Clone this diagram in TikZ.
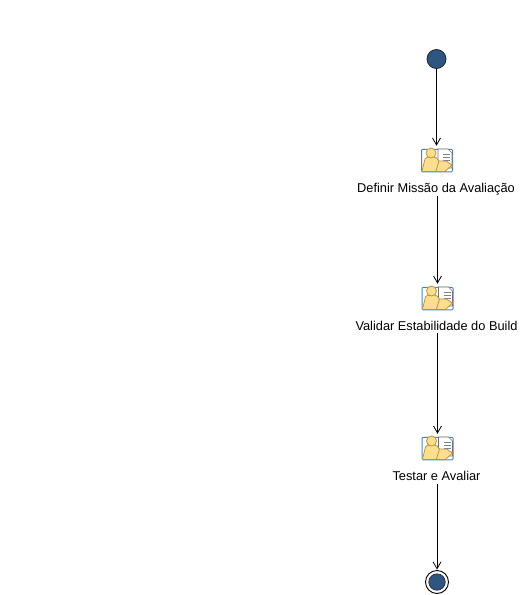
\documentclass[tikz,border=0pt]{standalone}
\usepackage{fontspec}
\setmainfont{Liberation Sans}
\usetikzlibrary{arrows.meta}
\definecolor{nodeblue}{HTML}{2F5581}
\definecolor{iconline}{HTML}{B8963F}
\definecolor{iconfill}{HTML}{FBDF8F}
\definecolor{iconfrm}{HTML}{4F86A8}
\tikzset{
  x=1pt,y=-1pt,
  startnode/.style={circle,draw=black!85,fill=nodeblue,line width=0.8pt,minimum size=19pt,inner sep=0pt},
  endnode/.style={circle,draw=black,fill=white,line width=0.9pt,minimum size=23pt,inner sep=0pt},
  endcore/.style={circle,draw=black!85,fill=nodeblue,line width=0.6pt,minimum size=16.5pt,inner sep=0pt},
  iconbox/.style={rectangle,draw=iconfrm,fill=white,line width=1pt,minimum width=31pt,minimum height=22.5pt,inner sep=0pt,rounded corners=1pt},
  steplabel/.style={anchor=base,inner sep=0pt,font=\fontsize{12.8}{15}\selectfont,text=black},
  flow/.style={draw=black,line width=0.8pt,shorten >=0.5pt,-{Straight Barb[length=7pt,width=8pt,line width=0.8pt]}},
  iconpart/.style={draw=iconline,fill=iconfill,line width=0.8pt},
  docpart/.style={draw=black!55,fill=white,line width=0.7pt},
}
\newcommand{\roleicon}[1]{%
  \begin{scope}[shift={(#1)}]
    \draw[docpart] (1,-11) -- (11,-11) -- (15,-7) -- (15,8) -- (1,8) -- cycle;
    \draw[draw=black!50,line width=0.8pt] (6,-6) -- (13,-6) (6,-3) -- (13,-3) (6,0) -- (13,0) (9,3) -- (13,3);
    \draw[iconpart] (-15,11) -- (-12,-1) .. controls (-11,-3) and (-9,-3) .. (-8,-3) -- (-3,-3) .. controls (-1,-3) and (0,-2) .. (1,0) -- (2,1) -- (9,1) -- (15,5) -- (8,11.5) -- (-15,11.5) -- cycle;
    \draw[iconpart] (2,1) -- (-1,11);
    \draw[iconpart] (-6,-7) circle (5);
  \end{scope}}
\begin{document}
\begin{tikzpicture}
\useasboundingbox (0,0) rectangle (521,595);
\node[startnode] (start) at (436.5,59) {};
\node[iconbox] (icona) at (437,160.5) {};
\roleicon{437,160}
\node[steplabel] (laba) at (436,192) {Definir Missão da Avaliação};
\node[iconbox] (iconb) at (437.5,298.5) {};
\roleicon{437.5,298}
\node[steplabel] (labb) at (436.5,330) {Validar Estabilidade do Build};
\node[iconbox] (iconc) at (437.5,448.5) {};
\roleicon{437.5,448}
\node[steplabel] (labc) at (436.5,480) {Testar e Avaliar};
\node[endnode] (finish) at (437,582) {};
\node[endcore] (core) at (437,582) {};
\draw[flow,shorten >=3pt] (start) -- (start |- icona.north);
\draw[flow,shorten <=1pt,shorten >=3pt] (laba.south -| iconb.north) -- (iconb.north);
\draw[flow,shorten <=3pt,shorten >=3pt] (labb.south -| iconc.north) -- (iconc.north);
\draw[flow,shorten <=4pt] (labc.south -| finish.north) -- (finish.north);
\end{tikzpicture}
\end{document}
